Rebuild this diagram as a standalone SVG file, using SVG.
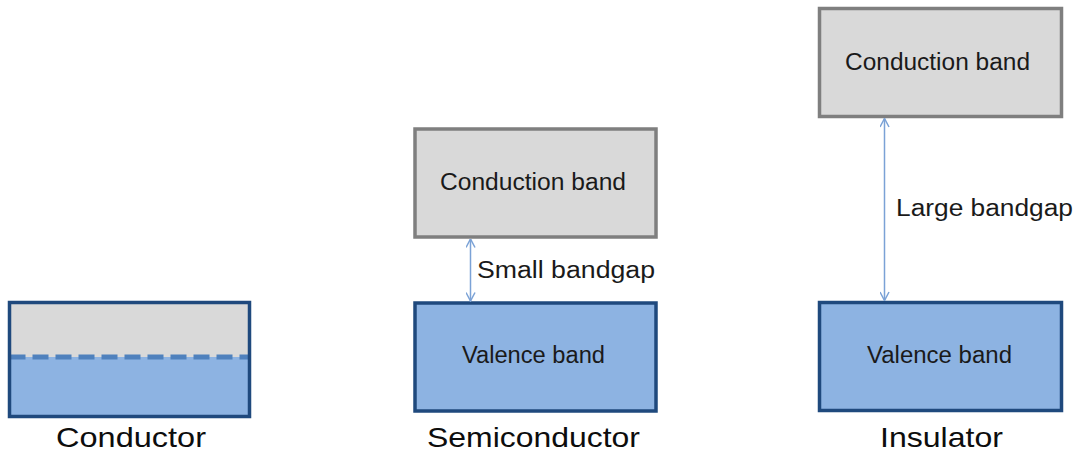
<svg xmlns="http://www.w3.org/2000/svg" width="1079" height="455" viewBox="0 0 1079 455">
<style>
.cb{fill:#d9d9d9;stroke:#7f7f7f;stroke-width:3.5}
.vb{fill:#8db3e2;stroke:#1f497d;stroke-width:3.5}
.t{font-family:"Liberation Sans",Arial,sans-serif;font-size:23px;fill:#1a1a1a}
.lbl{font-family:"Liberation Sans",Arial,sans-serif;font-size:28px;fill:#0d0d0d}
.arr{stroke:#7ba2d6;stroke-width:1.5;fill:none}
</style>
<defs>
<marker id="ah" viewBox="0 0 10 10" refX="9.5" refY="5" markerWidth="10" markerHeight="10" markerUnits="userSpaceOnUse" orient="auto-start-reverse">
<path d="M1,0.5 L9.5,5 L1,9.5" fill="none" stroke="#7ba2d6" stroke-width="1.5"/>
</marker>
</defs>
<g id="conductor">
<rect x="9.5" y="302.5" width="240" height="114" fill="#d9d9d9"/>
<rect x="9.5" y="357" width="240" height="59.5" fill="#8db3e2"/>
<line x1="9.5" y1="357" x2="249.5" y2="357" stroke="#4f81bd" stroke-width="5" stroke-dasharray="16 7"/>
<rect x="9.5" y="302.5" width="240" height="114" fill="none" stroke="#1f497d" stroke-width="3.5"/>
<text class="lbl" x="56" y="447" textLength="150" lengthAdjust="spacingAndGlyphs">Conductor</text>
</g>
<g id="semi-cb">
<rect class="cb" x="415" y="129" width="241" height="108"/>
<text class="t" x="440" y="190" textLength="186" lengthAdjust="spacingAndGlyphs">Conduction band</text>
</g>
<g id="semi-vb">
<rect class="vb" x="415" y="303" width="241" height="108"/>
<text class="t" x="462" y="363" textLength="143" lengthAdjust="spacingAndGlyphs">Valence band</text>
</g>
<text class="lbl" x="427" y="447" textLength="213" lengthAdjust="spacingAndGlyphs">Semiconductor</text>
<g id="ins-cb">
<rect class="cb" x="819.5" y="8.5" width="242" height="108"/>
<text class="t" x="845" y="70" textLength="185" lengthAdjust="spacingAndGlyphs">Conduction band</text>
</g>
<g id="ins-vb">
<rect class="vb" x="819.5" y="302.5" width="242" height="108"/>
<text class="t" x="867" y="363" textLength="145" lengthAdjust="spacingAndGlyphs">Valence band</text>
</g>
<text class="lbl" x="880" y="447" textLength="123" lengthAdjust="spacingAndGlyphs">Insulator</text>
<g id="connectors">
<line class="arr" x1="470.5" y1="239" x2="470.5" y2="301" marker-start="url(#ah)" marker-end="url(#ah)"/>
<line class="arr" x1="884.5" y1="118.5" x2="884.5" y2="300.5" marker-start="url(#ah)" marker-end="url(#ah)"/>
<text class="t" x="477" y="278" textLength="178" lengthAdjust="spacingAndGlyphs">Small bandgap</text>
<text class="t" x="896" y="216" textLength="177" lengthAdjust="spacingAndGlyphs">Large bandgap</text>
</g>
</svg>
